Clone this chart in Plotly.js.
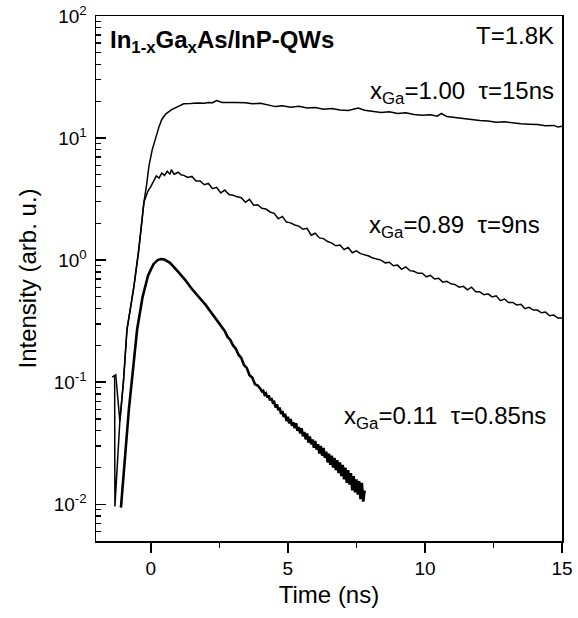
<!DOCTYPE html>
<html>
<head>
<meta charset="utf-8">
<script src="https://cdn.plot.ly/plotly-3.0.1.min.js"></script>
<style>html,body{margin:0;padding:0;background:#fff;}#chart{width:578px;height:618px;}</style>
</head>
<body>
<div id="chart"></div>
<script>
// x_Ga = 1.00, tau = 15 ns
const tA = [-1.41,-1.28,-1.13,-1.0,-0.87,-0.62,-0.44,-0.33,-0.25,-0.15,-0.07,0.05,0.18,0.3,0.4,0.55,0.76,1.0,1.2,1.45,1.7,1.95,2.1,2.25,2.4,2.6,2.85,3.1,3.45,3.7,4.0,4.3,4.55,4.8,5.1,5.4,5.7,6.0,6.3,6.6,6.9,7.2,7.56,7.8,8.1,8.4,8.7,9.0,9.3,9.6,9.9,10.2,10.45,10.6,10.8,11.1,11.4,11.7,12.0,12.3,12.6,12.9,13.2,13.5,13.8,14.1,14.4,14.7,14.85,15.0];
const iA = [0.11,0.115,0.048,0.10,0.27,0.6,1.23,2.2,3.0,4.2,5.86,8.0,10.3,12.4,14.2,15.8,17.1,18.3,19.1,19.2,19.4,19.3,19.6,19.5,20.3,19.6,19.7,19.6,19.5,19.1,19.3,18.6,18.1,18.4,17.9,18.2,17.6,17.8,17.2,17.5,17.0,16.8,17.6,16.9,16.6,16.2,16.4,15.9,16.1,15.6,15.4,15.5,15.1,15.9,15.0,14.7,14.4,14.1,13.9,13.8,13.5,13.6,13.3,13.1,13.0,12.9,12.6,12.7,12.3,12.5];

// x_Ga = 0.89, tau = 9 ns
const tB = [-1.36,-1.32,-1.31,-1.13,-1.0,-0.87,-0.62,-0.44,-0.25,-0.1,0.0,0.1,0.2,0.3,0.4,0.5,0.6,0.7,0.75,0.85,1.0,1.1,1.2,1.35,1.5,1.65,1.8,1.95,2.1,2.25,2.4,2.55,2.7,2.85,3.0,3.15,3.3,3.45,3.6,3.75,3.9,4.05,4.2,4.35,4.5,4.65,4.8,4.95,5.1,5.25,5.4,5.55,5.7,5.85,6.0,6.15,6.3,6.45,6.6,6.75,6.9,7.05,7.2,7.35,7.5,7.65,7.8,7.95,8.1,8.25,8.4,8.55,8.7,8.85,9.0,9.15,9.3,9.45,9.6,9.75,9.9,10.05,10.2,10.35,10.5,10.65,10.8,10.95,11.1,11.25,11.4,11.55,11.7,11.85,12.0,12.15,12.3,12.45,12.6,12.75,12.9,13.05,13.2,13.35,13.5,13.65,13.8,13.95,14.1,14.25,14.4,14.55,14.7,14.85,15.0];
const iB = [0.11,0.113,0.0096,0.048,0.10,0.27,0.6,1.2,3.0,3.7,4.0,4.4,4.9,4.7,5.15,4.95,5.35,5.05,5.5,5.05,5.25,5.0,4.95,4.75,4.85,4.45,4.45,4.15,4.25,3.85,3.95,3.55,3.75,3.45,3.4,3.3,3.25,2.98,3.15,2.82,2.84,2.66,2.62,2.48,2.42,2.18,2.28,2.05,2.02,1.94,1.9,1.79,1.82,1.6,1.66,1.52,1.5,1.42,1.38,1.31,1.33,1.22,1.27,1.15,1.19,1.13,1.11,1.08,1.04,1.02,1.0,0.95,0.96,0.9,0.91,0.84,0.88,0.82,0.81,0.78,0.78,0.73,0.75,0.70,0.71,0.66,0.67,0.64,0.63,0.6,0.61,0.57,0.60,0.55,0.55,0.52,0.53,0.50,0.51,0.465,0.48,0.45,0.45,0.43,0.435,0.40,0.41,0.39,0.39,0.37,0.375,0.35,0.355,0.335,0.335];

// x_Ga = 0.11, tau = 0.85 ns
const tC = [-1.09,-0.8,-0.5,-0.3,-0.1,0.1,0.25,0.36,0.5,0.7,1.0,1.25,1.5,1.75,2.0,2.25,2.5,2.6,2.7,2.8,2.9,3.0,3.1,3.2,3.3,3.4,3.5,3.6,3.7,3.8,3.9,4.0,4.05,4.1,4.15,4.2,4.25,4.3,4.35,4.4,4.45,4.5,4.55,4.6,4.65,4.7,4.75,4.8,4.85,4.9,4.95,5.0,5.05,5.1,5.15,5.2,5.25,5.3,5.35,5.4,5.45,5.5,5.55,5.6,5.65,5.7,5.75,5.8,5.85,5.9,5.95,6.0,6.05,6.1,6.15,6.2,6.25,6.3,6.35,6.4,6.45,6.5,6.55,6.6,6.65,6.7,6.75,6.8,6.85,6.9,6.95,7.0,7.05,7.1,7.15,7.2,7.25,7.3,7.35,7.4,7.45,7.5,7.55,7.6,7.65,7.7,7.75,7.8];
const iC = [0.0094,0.06,0.27,0.5,0.75,0.93,1.0,1.02,1.01,0.95,0.80,0.69,0.58,0.50,0.43,0.36,0.30,0.28,0.262,0.235,0.222,0.20,0.188,0.168,0.158,0.138,0.131,0.114,0.109,0.096,0.094,0.088,0.084,0.085,0.079,0.081,0.075,0.078,0.071,0.074,0.068,0.069,0.062,0.066,0.059,0.062,0.055,0.058,0.052,0.055,0.048,0.052,0.046,0.050,0.044,0.047,0.042,0.046,0.040,0.043,0.038,0.042,0.036,0.039,0.034,0.038,0.032,0.036,0.031,0.034,0.029,0.033,0.028,0.031,0.026,0.030,0.025,0.029,0.024,0.027,0.022,0.026,0.021,0.025,0.020,0.024,0.019,0.023,0.018,0.022,0.017,0.021,0.016,0.020,0.015,0.019,0.0145,0.018,0.013,0.017,0.0125,0.016,0.012,0.0155,0.011,0.015,0.0105,0.013];

const xTicks = [0, 5, 10, 15];
const yTickVals = [0.01, 0.1, 1, 10, 100];
const yTickText = ['10<sup>-2</sup>', '10<sup>-1</sup>', '10<sup>0</sup>', '10<sup>1</sup>', '10<sup>2</sup>'];

const labelTitle = '<b>In<sub>1-x</sub>Ga<sub>x</sub>As/InP-QWs</b>';
const labelT = 'T=1.8K';
const labelA = 'x<sub>Ga</sub>=1.00&nbsp;&nbsp;τ=15ns';
const labelB = 'x<sub>Ga</sub>=0.89&nbsp;&nbsp;τ=9ns';
const labelC = 'x<sub>Ga</sub>=0.11&nbsp;&nbsp;τ=0.85ns';

const minorY = [];
for (let d = -3; d <= 1; d++) for (let k = 2; k <= 9; k++) minorY.push(k * Math.pow(10, d));

const F = '"Liberation Sans", Arial, sans-serif';
const line = (w) => ({color: '#000', width: w});

const traces = [
  {x: tA, y: iA, mode: 'lines', line: line(1.5), hoverinfo: 'skip'},
  {x: tB, y: iB, mode: 'lines', line: line(1.5), hoverinfo: 'skip'},
  {x: tC, y: iC, mode: 'lines', line: line(2.6), hoverinfo: 'skip'}
];

const ann = (text, x, y, xa, size) => ({text, x, y, xref: 'paper', yref: 'paper', xanchor: xa, yanchor: 'middle', showarrow: false, font: {family: F, size: size, color: '#000'}});

const layout = {
  width: 578, height: 618,
  margin: {l: 96, r: 16, t: 16, b: 77},
  paper_bgcolor: '#fff', plot_bgcolor: '#fff',
  showlegend: false,
  font: {family: F, color: '#000'},
  xaxis: {
    range: [-2, 15], tickmode: 'array', tickvals: xTicks,
    ticks: 'outside', ticklen: 10, tickwidth: 1.5, tickcolor: '#000',
    showline: true, linecolor: '#000', linewidth: 1.5, mirror: true,
    showgrid: false, zeroline: false,
    minor: {ticks: 'outside', tick0: 0, dtick: 2.5, ticklen: 5, tickwidth: 1.5, tickcolor: '#000', showgrid: false},
    tickfont: {family: F, size: 19, color: '#000'},
    title: {text: 'Time (ns)', font: {family: F, size: 24, color: '#000'}, standoff: 8}
  },
  yaxis: {
    type: 'log', range: [Math.log10(0.005), 2],
    tickmode: 'array', tickvals: yTickVals, ticktext: yTickText,
    ticks: 'inside', ticklen: 10, tickwidth: 1.5, tickcolor: '#000',
    ticklabelstandoff: 4,
    showline: true, linecolor: '#000', linewidth: 1.5, mirror: true,
    showgrid: false, zeroline: false,
    minor: {ticks: 'inside', tickmode: 'array', tickvals: minorY, ticklen: 5, tickwidth: 1.2, tickcolor: '#000', showgrid: false},
    tickfont: {family: F, size: 19, color: '#000'},
    title: {text: 'Intensity (arb. u.)', font: {family: F, size: 24, color: '#000'}, standoff: 10}
  },
  annotations: [
    ann(labelTitle, 0.025, 0.952, 'left', 24),
    ann(labelT, 0.988, 0.962, 'right', 24),
    ann(labelA, 0.988, 0.855, 'right', 24),
    ann(labelB, 0.958, 0.600, 'right', 24),
    ann(labelC, 0.970, 0.236, 'right', 24)
  ]
};

Plotly.newPlot('chart', traces, layout, {displayModeBar: false, staticPlot: true});
</script>
</body>
</html>
